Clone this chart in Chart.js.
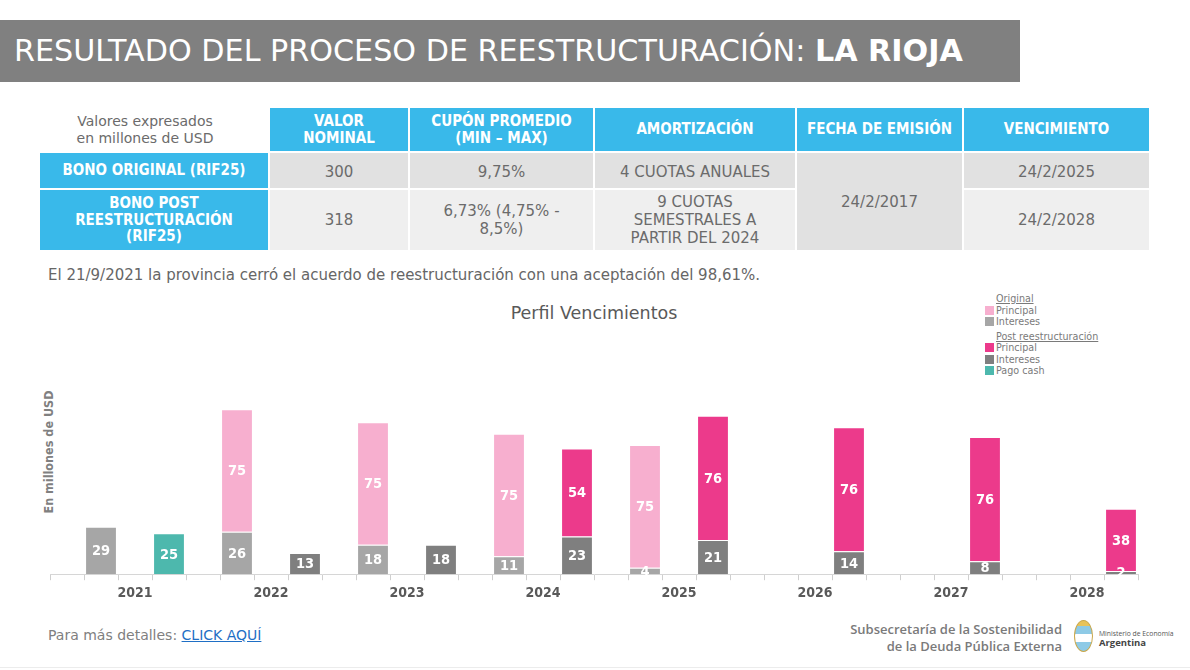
<!DOCTYPE html>
<html>
<head>
<meta charset="utf-8">
<script src="https://cdn.jsdelivr.net/npm/chart.js@4/dist/chart.umd.min.js"></script>
<style>
  html, body { margin:0; padding:0; background:#fff; width:1190px; height:670px; overflow:hidden; font-family:"DejaVu Sans", Verdana, sans-serif; }
  .abs { position:absolute; }
  #titlebar { left:0; top:20px; width:1020px; height:62px; background:#808080; color:#fff; font-size:30.2px; line-height:62px; box-sizing:border-box; padding-left:14px; white-space:nowrap; font-family:"DejaVu Sans",sans-serif; }
  #titlebar b { font-weight:bold; }
  .cell { position:absolute; display:flex; align-items:center; justify-content:center; text-align:center; box-sizing:border-box; line-height:1.2; }
  .hd { background:#39b9ea; color:#fff; font-weight:bold; font-size:15px; line-height:1.1; font-family:"DejaVu Sans Condensed","DejaVu Sans",sans-serif; }
  .rh { background:#39b9ea; color:#fff; font-weight:bold; font-size:15px; line-height:1.12; font-family:"DejaVu Sans Condensed","DejaVu Sans",sans-serif; }
  .d1 { background:#e1e1e1; color:#6b6b6b; font-size:15px; }
  .d2 { background:#efefef; color:#6b6b6b; font-size:15px; }
  .note { color:#6b6b6b; font-size:14px; }
  #sentence { left:48px; top:266px; color:#666; font-size:15px; white-space:nowrap; }
  #ctitle { left:0; width:1188px; top:303px; text-align:center; color:#595959; font-size:17.5px; }
  #ytitle { left:48px; top:452px; transform:translate(-50%,-50%) rotate(-90deg); color:#808080; font-weight:bold; font-size:12.5px; white-space:nowrap; font-family:"DejaVu Sans Condensed","DejaVu Sans",sans-serif; }
  #legend { left:985px; top:293px; font-size:9.6px; color:#7a7a7a; line-height:11.5px; }
  #legend .h { padding-left:11px; text-decoration:underline; }
  #legend .it { display:flex; align-items:center; }
  #legend .sw { width:9px; height:9px; margin-right:2px; display:inline-block; }
  #chartwrap { left:0; top:323px; width:1190px; height:290px; }
  #foot { left:48px; top:627px; color:#808080; font-size:14px; white-space:nowrap; }
  #foot a { color:#1f6fc5; text-decoration:underline; }
  #subse { right:128px; top:621px; color:#7a7a7a; font-size:13px; font-weight:600; text-align:right; line-height:17px; font-family:"Open Sans",sans-serif; white-space:nowrap; }
  #logo { left:1074px; top:620px; width:19px; height:32px; border-radius:50%; background:linear-gradient(#e8c35a 0 18%, #8ecae6 18% 45%, #ffffff 45% 70%, #8ecae6 70% 100%); border:1px solid #c9a74a; box-sizing:border-box; }
  #minis { left:1099px; top:629px; color:#555; font-size:6.8px; line-height:9px; white-space:nowrap; font-family:"Open Sans",sans-serif; }
  #minis b { font-size:9.5px; color:#444; }
  #bline { left:0; top:667px; width:1190px; height:1px; background:#ececec; }
</style>
</head>
<body>
<div id="titlebar" class="abs">RESULTADO DEL PROCESO DE REESTRUCTURACIÓN: <b>LA RIOJA</b></div>

<div class="cell note" style="left:31px;top:108px;width:228px;height:43px;">Valores expresados<br>en millones de USD</div>
<div class="cell hd" style="left:270px;top:108px;width:138px;height:43px;">VALOR<br>NOMINAL</div>
<div class="cell hd" style="left:410px;top:108px;width:183px;height:43px;">CUPÓN PROMEDIO<br>(MIN – MAX)</div>
<div class="cell hd" style="left:595px;top:108px;width:200px;height:43px;">AMORTIZACIÓN</div>
<div class="cell hd" style="left:797px;top:108px;width:165px;height:43px;">FECHA DE EMISIÓN</div>
<div class="cell hd" style="left:964px;top:108px;width:185px;height:43px;">VENCIMIENTO</div>

<div class="cell rh" style="left:40px;top:153px;width:228px;height:35px;">BONO ORIGINAL (RIF25)</div>
<div class="cell d1" style="left:270px;top:153px;width:138px;height:35px;padding-top:3px;">300</div>
<div class="cell d1" style="left:410px;top:153px;width:183px;height:35px;padding-top:3px;">9,75%</div>
<div class="cell d1" style="left:595px;top:153px;width:200px;height:35px;padding-top:3px;">4 CUOTAS ANUALES</div>
<div class="cell d1" style="left:797px;top:153px;width:165px;height:97px;">24/2/2017</div>
<div class="cell d1" style="left:964px;top:153px;width:185px;height:35px;padding-top:3px;">24/2/2025</div>

<div class="cell rh" style="left:40px;top:190px;width:228px;height:60px;">BONO POST<br>REESTRUCTURACIÓN<br>(RIF25)</div>
<div class="cell d2" style="left:270px;top:190px;width:138px;height:60px;">318</div>
<div class="cell d2" style="left:410px;top:190px;width:183px;height:60px;">6,73% (4,75% -<br>8,5%)</div>
<div class="cell d2" style="left:595px;top:190px;width:200px;height:60px;">9 CUOTAS<br>SEMESTRALES A<br>PARTIR DEL 2024</div>
<div class="cell d2" style="left:964px;top:190px;width:185px;height:60px;">24/2/2028</div>

<div id="sentence" class="abs">El 21/9/2021 la provincia cerró el acuerdo de reestructuración con una aceptación del 98,61%.</div>

<div id="ctitle" class="abs">Perfil Vencimientos</div>
<div id="ytitle" class="abs">En millones de USD</div>

<div id="legend" class="abs">
  <div class="h">Original</div>
  <div class="it"><span class="sw" style="background:#f7afcf"></span>Principal</div>
  <div class="it"><span class="sw" style="background:#a6a6a6"></span>Intereses</div>
  <div class="h" style="margin-top:3px">Post reestructuración</div>
  <div class="it"><span class="sw" style="background:#ec3a8b"></span>Principal</div>
  <div class="it"><span class="sw" style="background:#7f7f7f"></span>Intereses</div>
  <div class="it"><span class="sw" style="background:#4db8ad"></span>Pago cash</div>
</div>

<div id="chartwrap" class="abs"><canvas id="c"></canvas></div>

<div id="foot" class="abs">Para más detalles: <a>CLICK AQUÍ</a></div>
<div id="subse" class="abs">Subsecretaría de la Sostenibilidad<br>de la Deuda Pública Externa</div>
<div id="logo" class="abs"></div>
<div id="minis" class="abs">Ministerio de Economía<br><b>Argentina</b></div>
<div id="bline" class="abs"></div>

<script>
// ---- Data (USD millions) ----
const years = ['2021','2022','2023','2024','2025','2026','2027','2028'];
const origPrincipal = [0, 75, 75, 75, 75, 0, 0, 0];
const origIntereses = [29, 26, 18, 11, 4, 0, 0, 0];
const postPrincipal = [0, 0, 0, 54, 76, 76, 76, 38];
const postIntereses = [0, 13, 18, 23, 21, 14, 8, 2];
const pagoCash      = [25, 0, 0, 0, 0, 0, 0, 0];

// Each year occupies 4 slots: [gap, original bar, year label, post bar]
const SLOTS = 4;
const labels = [];
years.forEach(y => { labels.push('', '', y, ''); });
function spread(arr, pos) {
  const out = [];
  arr.forEach(v => { for (let k = 0; k < SLOTS; k++) out.push(k === pos && v ? v : null); });
  return out;
}

const datasets = [
  { label:'Original Intereses', data: spread(origIntereses, 1), backgroundColor:'#a6a6a6', stack:'s' },
  { label:'Original Principal', data: spread(origPrincipal, 1), backgroundColor:'#f7afcf', stack:'s' },
  { label:'Post Intereses', data: spread(postIntereses, 3), backgroundColor:'#7f7f7f', stack:'s' },
  { label:'Pago cash', data: spread(pagoCash, 3), backgroundColor:'#4db8ad', stack:'s' },
  { label:'Post Principal', data: spread(postPrincipal, 3), backgroundColor:'#ec3a8b', stack:'s' }
];
datasets.forEach(d => {
  d.borderColor = 'rgba(255,255,255,0.55)';
  d.borderWidth = {top:1, left:0, right:0, bottom:0};
  d.borderSkipped = 'bottom';
  d.categoryPercentage = 1;
  d.barPercentage = 0.88;
});

const valueLabels = {
  id:'valueLabels',
  afterDatasetsDraw(chart) {
    const ctx = chart.ctx;
    const area = chart.chartArea;
    ctx.save();
    ctx.beginPath();
    ctx.rect(area.left, area.top, area.right - area.left, area.bottom - area.top + 1);
    ctx.clip();
    ctx.fillStyle = '#ffffff';
    ctx.font = 'bold 14.5px "DejaVu Sans Condensed", "DejaVu Sans", sans-serif';
    ctx.textAlign = 'center';
    ctx.textBaseline = 'middle';
    chart.data.datasets.forEach((ds, i) => {
      const meta = chart.getDatasetMeta(i);
      meta.data.forEach((el, j) => {
        const v = ds.data[j];
        if (!v) return;
        const p = el.getProps(['x','y','base'], true);
        ctx.fillText(String(v), p.x, (p.y + p.base) / 2 + 1);
      });
    });
    ctx.restore();
  }
};

new Chart(document.getElementById('c'), {
  type:'bar',
  data:{ labels, datasets },
  plugins:[valueLabels],
  options:{
    responsive:true,
    maintainAspectRatio:false,
    animation:false,
    layout:{ padding:{ left:50, right:52, top:11, bottom:6 } },
    plugins:{ legend:{ display:false }, tooltip:{ enabled:false }, title:{ display:false } },
    scales:{
      x:{
        stacked:true,
        grid:{ display:true, drawOnChartArea:false, drawTicks:true, tickLength:6, color:'#cfcfcf', offset:true },
        border:{ display:true, color:'#d6d6d6', width:1 },
        ticks:{ autoSkip:false, maxRotation:0, minRotation:0, color:'#595959', padding:5,
                font:{ family:'"DejaVu Sans Condensed", "DejaVu Sans", sans-serif', size:14, weight:'bold' } }
      },
      y:{ stacked:true, display:false, min:0, max:147 }
    }
  }
});
</script>
</body>
</html>
